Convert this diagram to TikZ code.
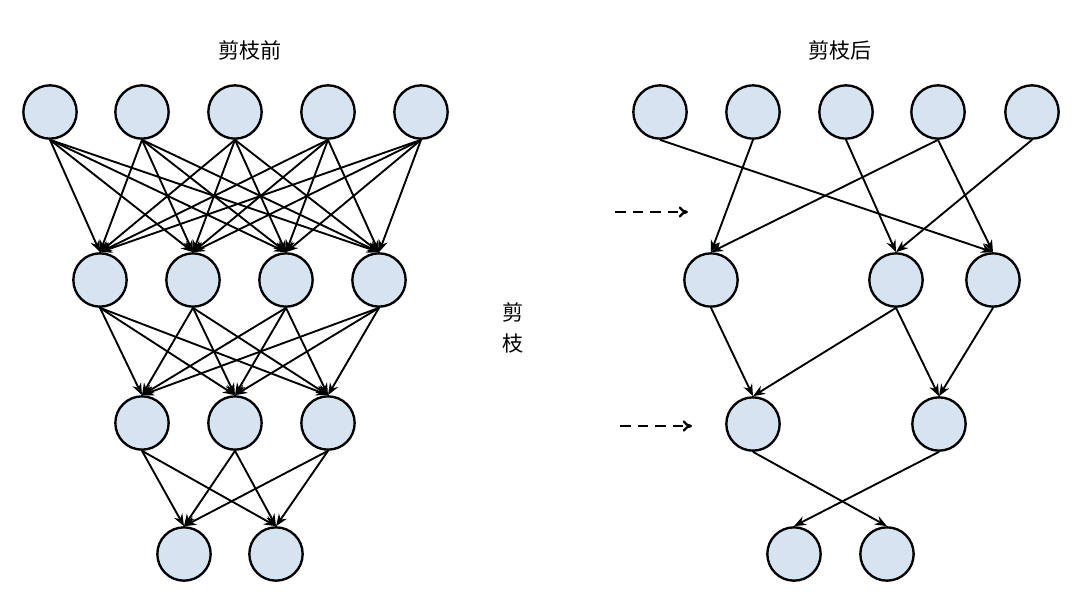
\documentclass[tikz,border=0pt]{standalone}
\usepackage{fontspec}
\setmainfont{Noto Sans CJK SC}
\usetikzlibrary{arrows.meta}
\definecolor{nodefill}{RGB}{214,227,241}

\begin{document}
\begin{tikzpicture}[x=0.03cm,y=-0.03cm,
  neuron/.style={circle,draw,fill=nodefill,line width=2pt,minimum size=1.6cm,inner sep=0pt},
  link/.style={-{Stealth[length=3.6mm,width=2.8mm]},line width=1.6pt},
  cue/.style={dash pattern=on 9pt off 6pt,-{To[length=2.8mm,width=3.4mm]},line width=2pt},
  title/.style={font=\fontsize{18}{26}\selectfont,align=center}]
\useasboundingbox (0,0) rectangle (1080,604);

% titles
\node[title] (before) at (250,50) {剪枝前};
\node[title] (after) at (840,50) {剪枝后};
\node[title] (cut) at (513,328) {剪\\枝};

% full network
\foreach \x [count=\i] in {50,142,235,328,421} \node[neuron] (a\i) at (\x,112) {};
\foreach \x [count=\i] in {100,193,286,379} \node[neuron] (b\i) at (\x,280) {};
\foreach \x [count=\i] in {142,235,328} \node[neuron] (c\i) at (\x,423) {};
\foreach \x [count=\i] in {184,276} \node[neuron] (d\i) at (\x,554) {};

\foreach \i in {1,...,5} \foreach \j in {1,...,4} \draw[link] (a\i.south) -- (b\j.north);
\foreach \i in {1,...,4} \foreach \j in {1,...,3} \draw[link] (b\i.south) -- (c\j.north);
\foreach \i in {1,...,3} \foreach \j in {1,2} \draw[link] (c\i.south) -- (d\j.north);

% pruned network
\foreach \x [count=\i] in {660,753,846,938,1032} \node[neuron] (p\i) at (\x,112) {};
\foreach \x [count=\i] in {711,896,993} \node[neuron] (q\i) at (\x,280) {};
\foreach \x [count=\i] in {753,939} \node[neuron] (r\i) at (\x,424) {};
\foreach \x [count=\i] in {794,887} \node[neuron] (s\i) at (\x,554) {};

\foreach \u/\v in {p1/q3,p2/q1,p3/q2,p4/q1,p4/q3,p5/q2,q1/r1,q2/r1,q2/r2,q3/r2,r1/s2,r2/s1}
  \draw[link] (\u.south) -- (\v.north);

% pruned layers
\coordinate (m1) at (615,212);
\coordinate (m2) at (688,212);
\coordinate (n1) at (620,426);
\coordinate (n2) at (692,426);
\draw[cue] (m1) -- (m2);
\draw[cue] (n1) -- (n2);
\end{tikzpicture}
\end{document}
